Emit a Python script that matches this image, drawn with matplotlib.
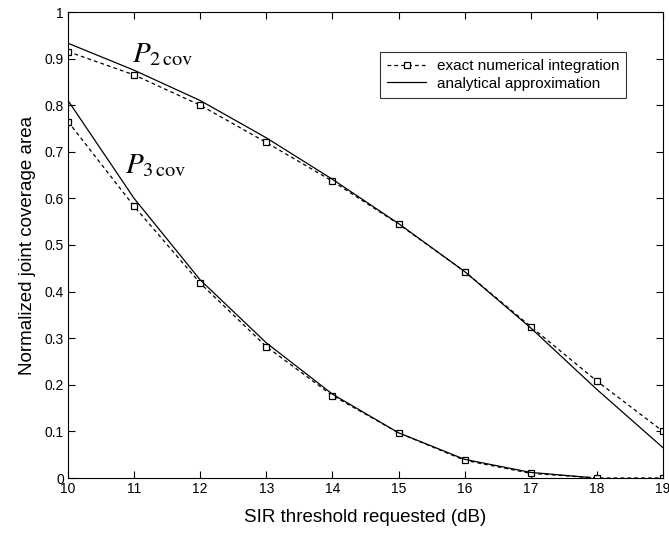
import matplotlib

matplotlib.use("Agg")
import matplotlib.pyplot as plt

plt.rcParams["font.family"] = ["Liberation Sans", "DejaVu Sans"]
plt.rcParams["mathtext.fontset"] = "stix"

sir_db = [10, 11, 12, 13, 14, 15, 16, 17, 18, 19]

p2_exact = [0.915, 0.865, 0.800, 0.720, 0.637, 0.545, 0.443, 0.325, 0.208, 0.100]
p2_approx = [0.933, 0.875, 0.810, 0.730, 0.641, 0.546, 0.443, 0.322, 0.190, 0.065]

p3_exact = [0.765, 0.583, 0.418, 0.282, 0.177, 0.097, 0.038, 0.010, 0.000, 0.000]
p3_sir_approx = [10, 11, 12, 13, 14, 15, 16, 17, 17.9]
p3_approx = [0.810, 0.600, 0.425, 0.290, 0.180, 0.097, 0.040, 0.012, 0.001]

fig = plt.figure(figsize=(6.69, 5.33), dpi=100)
ax = fig.add_axes([68 / 669, 1 - 478 / 533, 595 / 669, 466 / 533])

exact_style = dict(color="black", linestyle="--", dashes=(3, 2.5), linewidth=0.9,
                   marker="s", markersize=4, markerfacecolor="white",
                   markeredgecolor="black", markeredgewidth=0.9)
approx_style = dict(color="black", linestyle="-", linewidth=0.9)

ax.plot(sir_db, p2_exact, label="exact numerical integration", **exact_style)
ax.plot(sir_db, p2_approx, label="analytical approximation", **approx_style)
ax.plot(sir_db, p3_exact, **exact_style)
ax.plot(p3_sir_approx, p3_approx, **approx_style)

ax.text(10.97, 0.892, r"$P_{2\,\mathrm{cov}}$", fontsize=21)
ax.text(10.86, 0.655, r"$P_{3\,\mathrm{cov}}$", fontsize=21)

ax.set_xlim(10, 19)
ax.set_ylim(0, 1)
ax.set_xticks(sir_db)
ax.set_yticks([i / 10 for i in range(11)])
ax.set_yticklabels(["0"] + [f"{i / 10:g}" for i in range(1, 10)] + ["1"])
ax.tick_params(direction="in", top=True, right=True, labelsize=10, length=5, width=0.8,
               pad=3)
for spine in ax.spines.values():
    spine.set_linewidth(0.8)

ax.set_xlabel("SIR threshold requested (dB)", fontsize=13.5, labelpad=9)
ax.set_ylabel("Normalized joint coverage area", fontsize=13.5, labelpad=6)

legend = ax.legend(loc="upper left", bbox_to_anchor=(0.524, 0.914), fontsize=11,
                   frameon=True, fancybox=False, edgecolor="black",
                   borderpad=0.45, handlelength=2.6, labelspacing=0.25,
                   handletextpad=0.7, borderaxespad=0)
legend.get_frame().set_linewidth(0.8)

fig.savefig("out.png", dpi=100)
